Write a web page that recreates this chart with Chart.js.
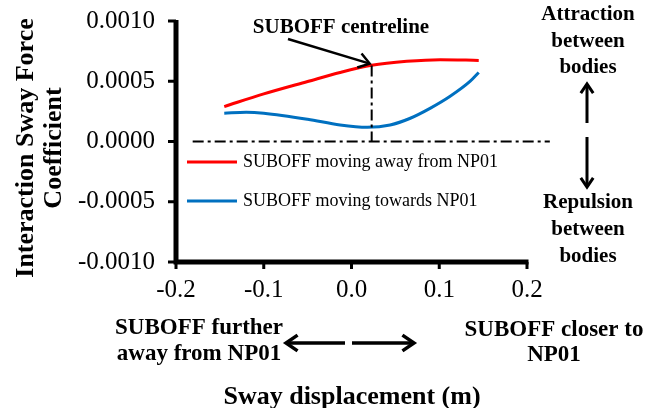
<!DOCTYPE html>
<html>
<head>
<meta charset="utf-8">
<script src="https://cdn.jsdelivr.net/npm/chart.js@4/dist/chart.umd.min.js"></script>
<style>
  html, body { margin: 0; padding: 0; background: #fff; }
  #wrap { width: 658px; height: 408px; }
</style>
</head>
<body>
<div id="wrap"><canvas id="swayChart" width="658" height="408"></canvas></div>
<script>
// values
const xTicks = [-0.2, -0.1, 0.0, 0.1, 0.2];
const yTicks = [-0.0010, -0.0005, 0.0000, 0.0005, 0.0010];

const awayX = [-0.145, -0.1, -0.05, -0.013, 0.023, 0.063, 0.101, 0.145];
const awayY = [0.00029, 0.000395, 0.000498, 0.000573, 0.000632, 0.000665, 0.000679, 0.000673];

const towardsX = [-0.145, -0.12, -0.1, -0.05, -0.013, 0.018, 0.044, 0.067, 0.09, 0.112, 0.135, 0.145];
const towardsY = [0.000235, 0.000243, 0.000235, 0.000185, 0.000137, 0.000118, 0.000137, 0.000193, 0.000277, 0.000373, 0.000498, 0.000573];

const centreX = 0.023;
const centreTop = 0.00063;
const zeroLineX = [-0.181, 0.226];

const serif = '"Liberation Serif", "Times New Roman", serif';

function pts(xs, ys) {
    return xs.map((x, i) => ({ x: x, y: ys[i] }));
}

function arrowHead(ctx, x, y, ang, len) {
    ctx.beginPath();
    ctx.moveTo(x - len * Math.cos(ang - 0.6), y - len * Math.sin(ang - 0.6));
    ctx.lineTo(x, y);
    ctx.lineTo(x - len * Math.cos(ang + 0.6), y - len * Math.sin(ang + 0.6));
    ctx.stroke();
}

function arrow(ctx, x1, y1, x2, y2, len) {
    ctx.beginPath();
    ctx.moveTo(x1, y1);
    ctx.lineTo(x2, y2);
    ctx.stroke();
    arrowHead(ctx, x2, y2, Math.atan2(y2 - y1, x2 - x1), len);
}

// axes, text, arrows and legend
const annotations = {
    id: 'annotations',
    afterDraw(chart) {
        const ctx = chart.ctx;
        const a = chart.chartArea;
        const xs = chart.scales.x, ys = chart.scales.y;
        ctx.save();
        ctx.fillStyle = '#000';
        ctx.strokeStyle = '#000';

        // thick axis lines and tick marks
        ctx.lineWidth = 3;
        ctx.beginPath();
        yTicks.forEach(v => {
            const y = ys.getPixelForValue(v);
            ctx.moveTo(a.left - 8, y);
            ctx.lineTo(a.left, y);
        });
        xTicks.forEach(v => {
            const x = xs.getPixelForValue(v);
            ctx.moveTo(x, a.bottom);
            ctx.lineTo(x, a.bottom + 7);
        });
        ctx.stroke();
        ctx.lineWidth = 5;
        ctx.beginPath();
        ctx.moveTo(a.left, a.top - 1);
        ctx.lineTo(a.left, a.bottom);
        ctx.lineTo(a.right + 1.5, a.bottom);
        ctx.stroke();

        ctx.textAlign = 'center';
        ctx.textBaseline = 'middle';

        // y axis title
        ctx.font = 'bold 26px ' + serif;
        ctx.save();
        ctx.translate(26, 148);
        ctx.rotate(-Math.PI / 2);
        ctx.fillText('Interaction Sway Force', 0, 0);
        ctx.fillText('Coefficient', 0, 28);
        ctx.restore();

        // x axis title
        ctx.fillText('Sway displacement (m)', 352, 397);

        // centreline label + arrow
        ctx.font = 'bold 21px ' + serif;
        ctx.fillText('SUBOFF centreline', 341, 28);
        ctx.lineWidth = 2.5;
        arrow(ctx, 288, 39, xs.getPixelForValue(centreX) - 2, ys.getPixelForValue(centreTop) - 2, 13);

        // right side
        ctx.fillText('Attraction', 588, 15);
        ctx.fillText('between', 588, 42);
        ctx.fillText('bodies', 588, 68);
        ctx.fillText('Repulsion', 588, 203);
        ctx.fillText('between', 588, 230);
        ctx.fillText('bodies', 588, 257);
        ctx.lineWidth = 3;
        arrow(ctx, 587, 123, 587, 84, 11);
        arrow(ctx, 587, 137, 587, 187, 11);

        // bottom
        ctx.font = 'bold 23px ' + serif;
        ctx.fillText('SUBOFF further', 199, 328);
        ctx.fillText('away from NP01', 199, 354);
        ctx.fillText('SUBOFF closer to', 554, 330);
        ctx.fillText('NP01', 554, 355);
        ctx.lineWidth = 3.5;
        arrow(ctx, 345, 343, 286, 343, 14);
        arrow(ctx, 352, 343, 414, 343, 14);

        // legend
        ctx.textAlign = 'left';
        ctx.font = '18px ' + serif;
        const items = [
            { label: 'SUBOFF moving away from NP01', color: '#FF0000', y: 162 },
            { label: 'SUBOFF moving towards NP01', color: '#0070C0', y: 201 }
        ];
        items.forEach(it => {
            ctx.strokeStyle = it.color;
            ctx.lineWidth = 3;
            ctx.beginPath();
            ctx.moveTo(187, it.y);
            ctx.lineTo(237, it.y);
            ctx.stroke();
            ctx.fillText(it.label, 243, it.y);
        });
        ctx.restore();
    }
};

new Chart(document.getElementById('swayChart'), {
    type: 'scatter',
    data: {
        datasets: [
            {
                label: 'zero',
                data: pts(zeroLineX, [0, 0]),
                showLine: true,
                borderColor: '#000',
                borderWidth: 2,
                borderDash: [11, 4, 3, 4],
                pointRadius: 0,
                clip: false
            },
            {
                label: 'centreline',
                data: pts([centreX, centreX], [centreTop, 0]),
                showLine: true,
                borderColor: '#000',
                borderWidth: 2,
                borderDash: [11, 4, 3, 4],
                pointRadius: 0
            },
            {
                label: 'SUBOFF moving away from NP01',
                data: pts(awayX, awayY),
                showLine: true,
                borderColor: '#FF0000',
                borderWidth: 3,
                cubicInterpolationMode: 'monotone',
                pointRadius: 0
            },
            {
                label: 'SUBOFF moving towards NP01',
                data: pts(towardsX, towardsY),
                showLine: true,
                borderColor: '#0070C0',
                borderWidth: 3,
                cubicInterpolationMode: 'monotone',
                pointRadius: 0
            }
        ]
    },
    options: {
        responsive: false,
        animation: false,
        layout: { padding: { left: 0, right: 131, top: 21, bottom: 104 } },
        plugins: {
            legend: { display: false },
            tooltip: { enabled: false }
        },
        scales: {
            x: {
                type: 'linear',
                min: -0.2,
                max: 0.2,
                afterFit: s => { s.height = 42; s.paddingLeft = 0; s.paddingRight = 0; },
                afterBuildTicks: s => { s.ticks = xTicks.map(v => ({ value: v })); },
                grid: { drawOnChartArea: false, tickLength: 7, color: 'rgba(0,0,0,0)' },
                border: { display: false },
                ticks: {
                    color: '#000',
                    padding: 6,
                    font: { family: serif, size: 25 },
                    callback: v => v.toFixed(1)
                }
            },
            y: {
                type: 'linear',
                min: -0.001,
                max: 0.001,
                afterFit: s => { s.width = 176; s.paddingTop = 0; s.paddingBottom = 0; },
                afterBuildTicks: s => { s.ticks = yTicks.map(v => ({ value: v })); },
                grid: { drawOnChartArea: false, tickLength: 7, color: 'rgba(0,0,0,0)' },
                border: { display: false },
                ticks: {
                    color: '#000',
                    padding: 14,
                    font: { family: serif, size: 25 },
                    callback: v => v.toFixed(4)
                }
            }
        }
    },
    plugins: [annotations]
});
</script>
</body>
</html>
